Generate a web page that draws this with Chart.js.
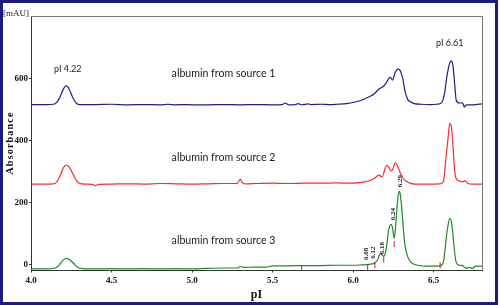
<!DOCTYPE html>
<html>
<head>
<meta charset="utf-8">
<script src="https://cdn.jsdelivr.net/npm/chart.js@4.4.1/dist/chart.umd.min.js"></script>
<style>
  html, body { margin: 0; padding: 0; background: #fff; }
  #wrap { position: relative; width: 500px; height: 305px; }
  #frame { position: absolute; left: 0; top: 0; width: 498px; height: 305px; box-sizing: border-box; border: 3px solid #1c1c7c; pointer-events: none; }
  canvas { position: absolute; left: 0; top: 0; }
</style>
</head>
<body>
<div id="wrap">
  <canvas id="cief" width="500" height="305"></canvas>
  <div id="frame"></div>
</div>
<script>
// electropherograms (pI vs absorbance, mAU)
const xBlue = [4.00,4.05,4.10,4.14,4.16,4.18,4.20,4.21,4.22,4.23,4.24,4.26,4.28,4.30,4.40,4.50,4.60,4.70,4.80,4.85,4.90,4.95,5.00,5.10,5.20,5.30,5.40,5.50,5.56,5.58,5.60,5.64,5.66,5.68,5.72,5.74,5.80,5.85,5.90,5.96,6.02,6.07,6.10,6.13,6.16,6.19,6.21,6.22,6.23,6.245,6.26,6.27,6.28,6.29,6.30,6.31,6.32,6.33,6.34,6.36,6.38,6.42,6.48,6.52,6.55,6.56,6.57,6.58,6.59,6.60,6.61,6.62,6.63,6.64,6.66,6.68,6.69,6.70,6.72,6.76,6.80];
const yBlue = [516,516,516,517,523,540,565,573,576,572,562,538,521,516,516,517,515,516,515,517,515,516,515,515,516,515,516,515,516,521,515,516,519,515,518,516,517,516,517,519,525,534,541,550,566,576,590,599,605,595,618,627,631,627,615,595,563,545,531,524,519,517,516,517,522,535,560,600,630,650,657,640,585,530,521,521,508,514,515,516,518];

const xRed = [4.00,4.08,4.14,4.16,4.18,4.20,4.21,4.22,4.23,4.24,4.26,4.28,4.30,4.34,4.38,4.40,4.42,4.50,4.60,4.70,4.80,4.90,5.00,5.10,5.20,5.28,5.30,5.31,5.33,5.40,5.50,5.60,5.70,5.80,5.90,6.00,6.065,6.10,6.13,6.16,6.18,6.20,6.21,6.22,6.235,6.25,6.26,6.27,6.28,6.29,6.31,6.34,6.38,6.45,6.50,6.54,6.56,6.575,6.59,6.60,6.61,6.62,6.63,6.64,6.66,6.68,6.695,6.71,6.74,6.80];
const yRed = [259,259,260,266,285,310,318,320,318,312,292,272,262,259,258,254,258,259,260,259,261,260,259,260,261,261,275,264,260,261,262,261,262,262,263,262,266,270,277,288,283,312,320,314,301,312,328,324,312,299,278,265,259,259,259,260,266,337,412,455,444,380,304,277,269,266,270,262,259,259];

const xGreen = [4.00,4.10,4.15,4.17,4.19,4.21,4.22,4.23,4.25,4.27,4.29,4.32,4.40,4.50,4.60,4.70,4.80,4.90,5.00,5.10,5.20,5.28,5.30,5.32,5.40,5.46,5.50,5.60,5.70,5.80,5.90,6.00,6.05,6.08,6.10,6.13,6.15,6.17,6.19,6.20,6.21,6.22,6.235,6.245,6.255,6.265,6.275,6.285,6.29,6.30,6.31,6.32,6.34,6.36,6.38,6.40,6.45,6.50,6.54,6.56,6.57,6.58,6.59,6.60,6.61,6.62,6.63,6.64,6.66,6.68,6.70,6.72,6.74,6.76,6.80];
const yGreen = [-15,-15,-12,-5,8,18,19,18,10,0,-10,-14,-15,-14,-15,-14,-15,-14,-15,-13,-12,-12,-7,-10,-9,-9,-5,-5,-4,-4,-3,-3,-2,-1,0,3,13,35,26,36,68,110,129,117,84,130,200,236,233,191,126,68,23,6,0,-3,-6,-6,-5,7,45,94,129,148,139,94,39,6,-3,-4,-13,-10,-13,-6,-6];

// integration markers on trace 3
const markX = [5.68, 6.09, 6.135, 6.19, 6.255, 6.54];
const markY = [-13, -10, -3, 15, 65, -3];

// peak labels on trace 3
const peakLabels = ['6.08', '6.12', '6.18', '6.24', '6.29'];
const peakLabelX = [6.084, 6.127, 6.183, 6.246, 6.289];
const peakLabelY = [34, 38, 52, 162, 269];

const seriesNames = ['albumin from source 1', 'albumin from source 2', 'albumin from source 3'];
const xTicks = [4.0, 4.5, 5.0, 5.5, 6.0, 6.5];
const yTicks = [0, 200, 400, 600];

const pts = (xs, ys) => xs.map((v, i) => ({ x: v, y: ys[i] }));

const serif = '"Liberation Serif", "Times New Roman", serif';
const sans = 'Lato, "Liberation Sans", sans-serif';

const extras = {
  id: 'extras',
  afterDraw(chart) {
    const { ctx, chartArea: a, scales: { x, y } } = chart;
    ctx.save();
    // top + right frame of the plot
    ctx.strokeStyle = '#777';
    ctx.lineWidth = 1;
    ctx.beginPath();
    ctx.moveTo(a.left, a.top + 0.5);
    ctx.lineTo(a.right + 0.5, a.top + 0.5);
    ctx.lineTo(a.right + 0.5, a.bottom);
    ctx.stroke();

    // unit label
    ctx.fillStyle = '#222';
    ctx.font = '9px ' + serif;
    ctx.textAlign = 'right';
    ctx.textBaseline = 'middle';
    ctx.fillText('[mAU]', a.left - 2, a.top - 2);

    // trace captions
    ctx.font = '10.6px ' + sans;
    ctx.textAlign = 'left';
    ctx.fillStyle = '#1a1a1a';
    const capY = [615, 346, 78];
    seriesNames.forEach((s, i) => ctx.fillText(s, x.getPixelForValue(4.873), y.getPixelForValue(capY[i])));

    ctx.font = '9px ' + sans;
    ctx.textAlign = 'center';
    ctx.fillText('pI 4.22', x.getPixelForValue(4.228), y.getPixelForValue(631));
    ctx.fillText('pI 6.61', x.getPixelForValue(6.60), y.getPixelForValue(716));

    // rotated peak pI labels
    ctx.font = 'bold 7px ' + serif;
    ctx.fillStyle = '#222';
    peakLabels.forEach((t, i) => {
      ctx.save();
      ctx.translate(x.getPixelForValue(peakLabelX[i]), y.getPixelForValue(peakLabelY[i]));
      ctx.rotate(-Math.PI / 2);
      ctx.fillText(t, 0, 0);
      ctx.restore();
    });

    // axis titles
    ctx.font = 'bold 12px ' + serif;
    ctx.fillStyle = '#111';
    ctx.fillText('pI', (a.left + a.right) / 2, 295);
    ctx.save();
    ctx.translate(10, 143);
    ctx.rotate(-Math.PI / 2);
    ctx.font = 'bold 10px ' + serif;
    ctx.letterSpacing = '1.2px';
    ctx.fillText('Absorbance', 0, 0);
    ctx.restore();
    ctx.restore();
  }
};

const line = (xs, ys, color) => ({
  data: pts(xs, ys),
  borderColor: color,
  borderWidth: 1.2,
  pointRadius: 0,
  showLine: true,
  cubicInterpolationMode: 'monotone',
  fill: false
});

new Chart(document.getElementById('cief'), {
  type: 'scatter',
  data: {
    datasets: [
      {
        data: pts(markX, markY),
        pointStyle: 'line',
        rotation: 90,
        radius: 3,
        borderColor: '#e8141e',
        borderWidth: 1,
        showLine: false
      },
      line(xBlue, yBlue, '#1f1f8c'),
      line(xRed, yRed, '#ff2a2a'),
      line(xGreen, yGreen, '#1f8a1f')
    ]
  },
  options: {
    responsive: false,
    devicePixelRatio: 1,
    animation: false,
    layout: { padding: { left: 0, top: 16, right: 18, bottom: 0 } },
    plugins: { legend: { display: false }, tooltip: { enabled: false } },
    scales: {
      x: {
        type: 'linear',
        min: 4.0,
        max: 6.8,
        afterBuildTicks: s => { s.ticks = xTicks.map(v => ({ value: v })); },
        afterFit: s => { s.height = 34.5; },
        grid: { drawOnChartArea: false, tickLength: 2, color: '#333' },
        border: { color: '#333', width: 1 },
        ticks: {
          color: '#111',
          padding: 3,
          maxRotation: 0,
          font: { family: serif, size: 9, weight: 'bold' },
          callback: v => v.toFixed(1)
        }
      },
      y: {
        min: -20,
        max: 802,
        afterBuildTicks: s => { s.ticks = yTicks.map(v => ({ value: v })); },
        afterFit: s => { s.width = 31; },
        grid: { drawOnChartArea: false, tickLength: 2, color: '#333' },
        border: { color: '#333', width: 1 },
        ticks: {
          color: '#111',
          padding: 1,
          font: { family: serif, size: 9, weight: 'bold' }
        }
      }
    }
  },
  plugins: [extras]
});
</script>
</body>
</html>
